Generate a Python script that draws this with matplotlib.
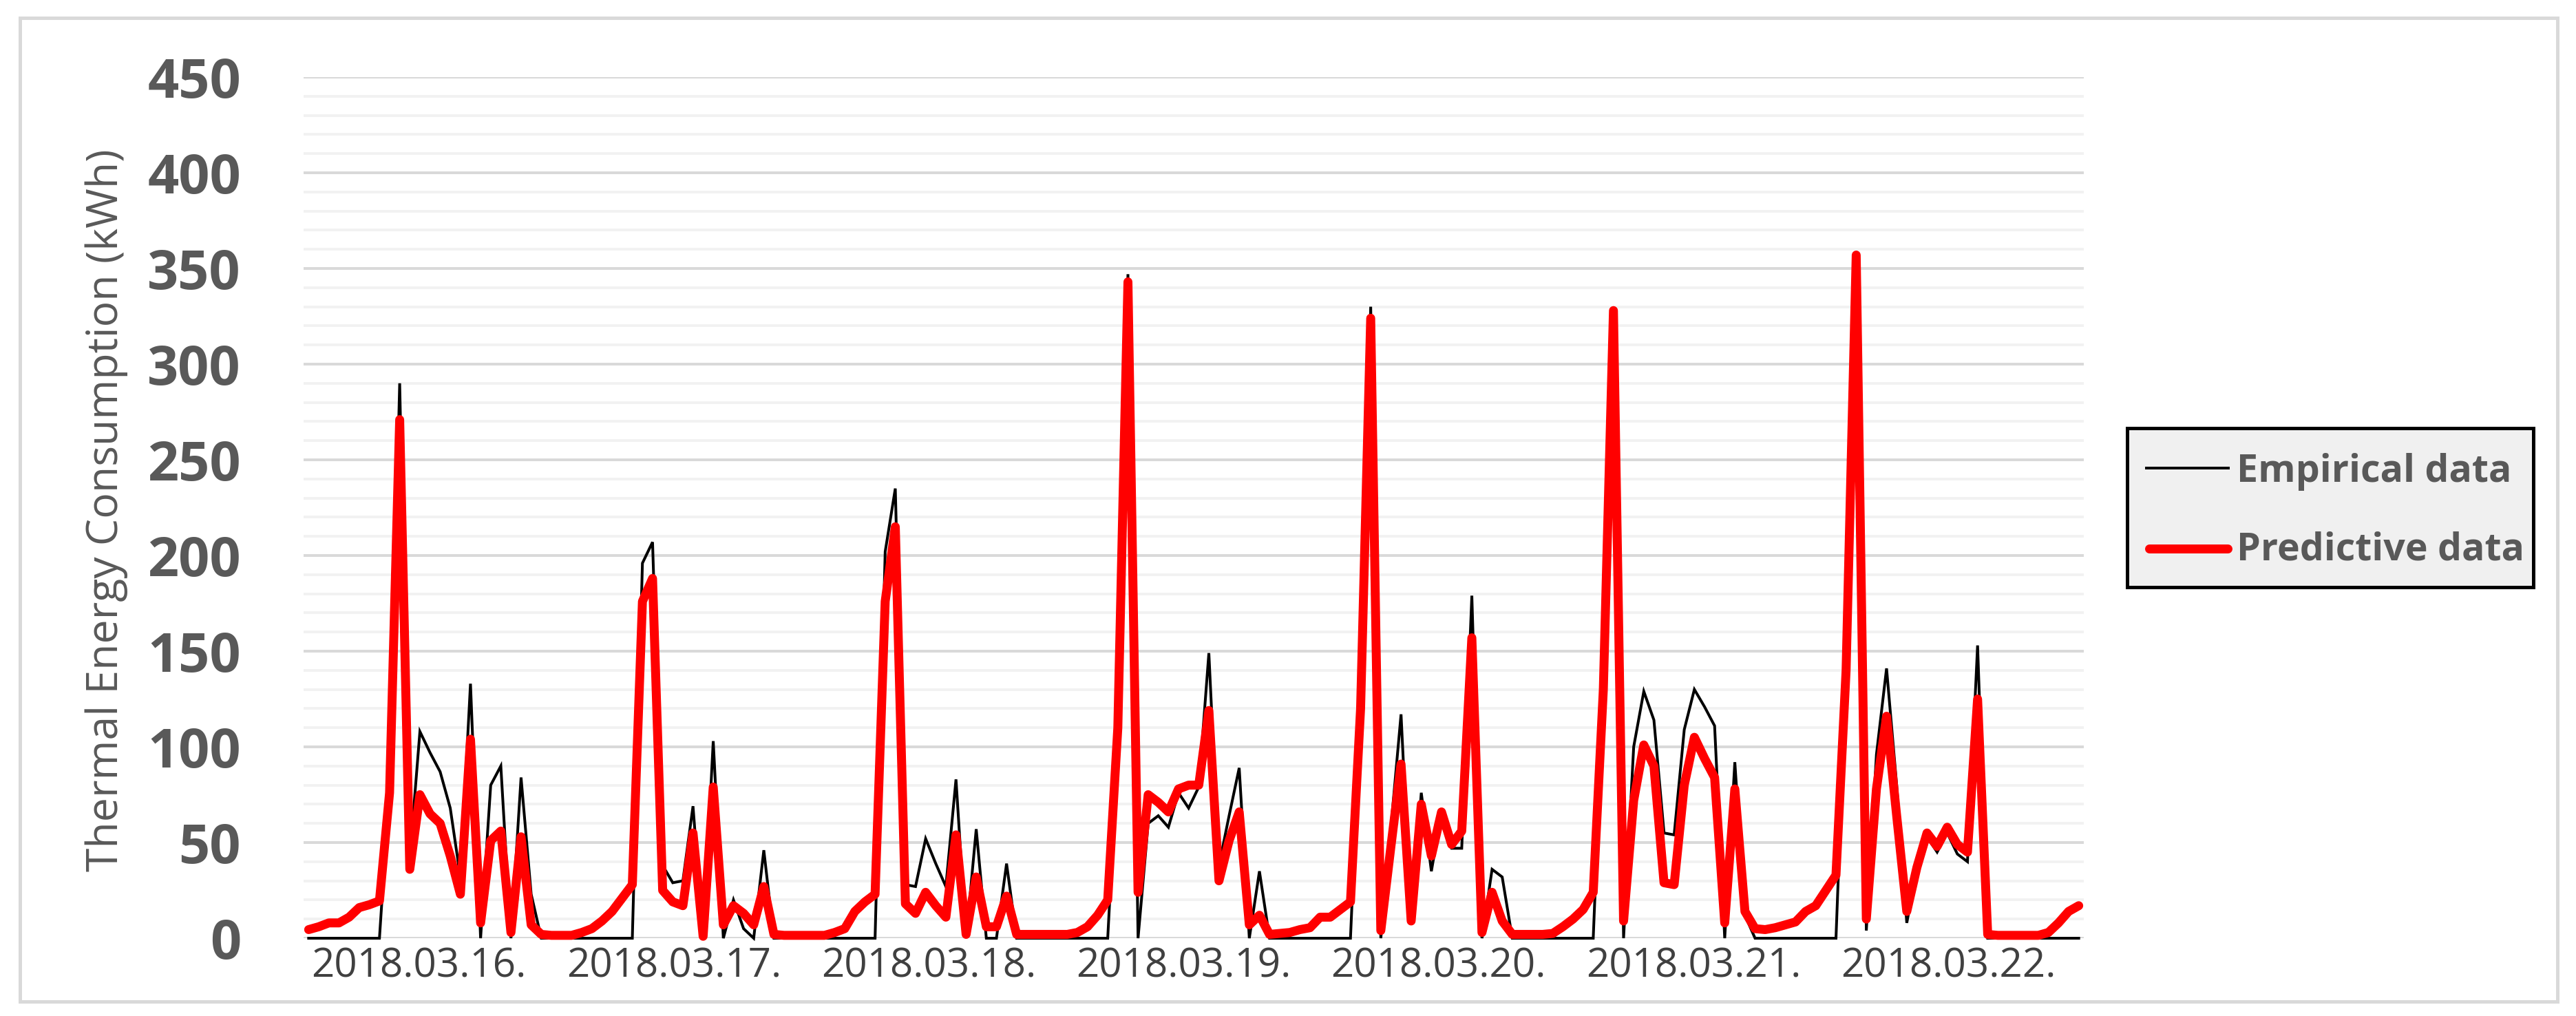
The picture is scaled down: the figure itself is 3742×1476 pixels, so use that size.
import matplotlib
matplotlib.use("Agg")
import matplotlib.pyplot as plt
from matplotlib.patches import Rectangle
from matplotlib.lines import Line2D
import numpy as np

# ---------------- data ----------------
date_labels = ["2018.03.16.", "2018.03.17.", "2018.03.18.", "2018.03.19.",
               "2018.03.20.", "2018.03.21.", "2018.03.22."]
series_names = ["Empirical data", "Predictive data"]
y_ticks = [0, 50, 100, 150, 200, 250, 300, 350, 400, 450]

empirical = [
    0, 0, 0, 0, 0, 0, 0, 0, 80, 290, 42, 108, 97, 87, 68, 32, 133, 0, 80, 90, 0, 84, 23, 0,
    0, 0, 0, 0, 0, 0, 0, 0, 0, 196, 207, 38, 29, 30, 69, 0, 103, 0, 20, 5, 0, 46, 0, 0,
    0, 0, 0, 0, 0, 0, 0, 0, 0, 202, 235, 28, 27, 52, 39, 27, 83, 0, 57, 0, 0, 39, 0, 0,
    0, 0, 0, 0, 0, 0, 0, 0, 100, 347, 0, 60, 64, 58, 76, 68, 79, 149, 38, 64, 89, 0, 35, 0,
    0, 0, 0, 0, 0, 0, 0, 0, 120, 330, 0, 58, 117, 8, 76, 35, 66, 47, 47, 179, 0, 36, 32, 0,
    0, 0, 0, 0, 0, 0, 0, 0, 130, 328, 0, 100, 129, 114, 55, 54, 109, 130, 121, 111, 0, 92, 12, 0,
    0, 0, 0, 0, 0, 0, 0, 0, 140, 357, 4, 96, 141, 80, 8, 36, 53, 45, 55, 44, 40, 153, 0, 0,
    0, 0, 0, 0, 0, 0, 0, 0,
]

predictive = [
    4.5, 6, 8, 8, 11, 16, 17.5, 19.5, 76, 271, 36, 75, 65, 60, 43, 23, 104, 8, 51, 56, 3, 53, 7, 2,
    1.5, 1.5, 1.5, 3, 5, 9, 14, 21, 28, 176, 188, 25, 19, 17, 55, 1, 79, 7, 17, 13, 7, 27, 2, 1.5,
    1.5, 1.5, 1.5, 1.5, 3, 5, 14, 19, 23, 176, 215, 18, 13, 24, 17, 11, 54, 2, 32, 6, 6, 22, 2, 2,
    2, 2, 2, 2, 3, 6, 12, 20, 110, 343, 24, 75, 71, 66, 78, 80, 80, 119, 30, 51, 66, 7, 12, 2,
    2.5, 3, 4.5, 5.5, 11, 11, 15, 19, 120, 324, 4, 48, 91, 9, 70, 43, 66, 49, 56, 157, 3, 24, 9, 2,
    2, 2, 2, 2.5, 6, 10, 15, 24, 130, 328, 9, 72, 101, 90, 29, 28, 80, 105, 94, 84, 8, 78, 14, 5,
    4.5, 5.5, 7, 8.5, 14, 17, 25, 33, 140, 357, 10, 78, 116, 64, 14, 37, 55, 48, 58, 49, 45, 125, 2, 1.5,
    1.5, 1.5, 1.5, 1.5, 3, 8, 14, 17,
]

# ---------------- figure ----------------
W, H = 3742, 1476
DPI = 100
fig = plt.figure(figsize=(W / DPI, H / DPI), dpi=DPI)
fig.patch.set_facecolor("white")

def fx(px):
    return px / W

def fy(py):
    return 1 - py / H

PX = 72.0 / DPI  # points per pixel
FONT = ["Open Sans", "DejaVu Sans"]

# outer chart border
fig.patches.append(Rectangle((fx(29), fy(1455)), fx(3715) - fx(29), fy(26) - fy(1455),
                             transform=fig.transFigure, fill=False,
                             edgecolor="#d9d9d9", linewidth=5 * PX, zorder=0))

L, R, T, B = 441, 3027, 112, 1363
ax = fig.add_axes([fx(L), fy(B), (R - L) / W, (B - T) / H])
n = len(empirical)
x = np.arange(n)
ax.set_xlim(-0.5, n - 0.5)
ax.set_ylim(0, 450)

ax.set_yticks(y_ticks)
ax.set_yticks(np.arange(0, 451, 10), minor=True)
ax.grid(which="minor", axis="y", color="#f2f2f2", linewidth=4 * PX)
ax.grid(which="major", axis="y", color="#d9d9d9", linewidth=4 * PX)
ax.set_axisbelow(True)
for s in ax.spines.values():
    s.set_visible(False)
ax.tick_params(which="both", length=0)

ax.set_yticklabels([str(v) for v in y_ticks], fontfamily=FONT,
                   fontweight="bold", fontsize=57, color="#595959")
ax.tick_params(axis="y", pad=91 * PX)

# date labels, one per day along the hourly axis
label_pos = [10.9 + 25.2 * k for k in range(len(date_labels))]
ax.set_xticks(label_pos)
ax.set_xticklabels(date_labels, fontfamily=FONT, fontsize=42, color="#404040")
ax.tick_params(axis="x", pad=12 * PX)

ax.plot(x, empirical, color="black", linewidth=4 * PX, solid_joinstyle="miter",
        clip_on=False, zorder=3, label=series_names[0])
ax.plot(x, predictive, color="#ff0000", linewidth=13 * PX, solid_joinstyle="round",
        solid_capstyle="round", clip_on=False, zorder=4, label=series_names[1])

# y label
fig.text(fx(155), fy(741), "Thermal Energy Consumption (kWh)", rotation=90,
         ha="center", va="center", fontsize=45, color="#595959", fontfamily=FONT)

# legend (drawn manually to match box geometry)
fig.patches.append(Rectangle((fx(3090), fy(853)), fx(3680) - fx(3090), fy(622) - fy(853),
                             transform=fig.transFigure, facecolor="#f0f0f0",
                             edgecolor="black", linewidth=5 * PX, zorder=5))
fig.lines.append(Line2D([fx(3118), fx(3237)], [fy(680), fy(680)], transform=fig.transFigure,
                        color="black", linewidth=4 * PX, zorder=6))
fig.lines.append(Line2D([fx(3122), fx(3236)], [fy(797), fy(797)], transform=fig.transFigure,
                        color="#ff0000", linewidth=13 * PX, solid_capstyle="round", zorder=6))
fig.text(fx(3249), fy(700), series_names[0], ha="left", va="baseline", fontsize=40,
         fontweight="bold", color="#595959", fontfamily=FONT, zorder=7)
fig.text(fx(3249), fy(813), series_names[1], ha="left", va="baseline", fontsize=40,
         fontweight="bold", color="#595959", fontfamily=FONT, zorder=7)

fig.savefig("out.png", dpi=DPI, facecolor="white")
